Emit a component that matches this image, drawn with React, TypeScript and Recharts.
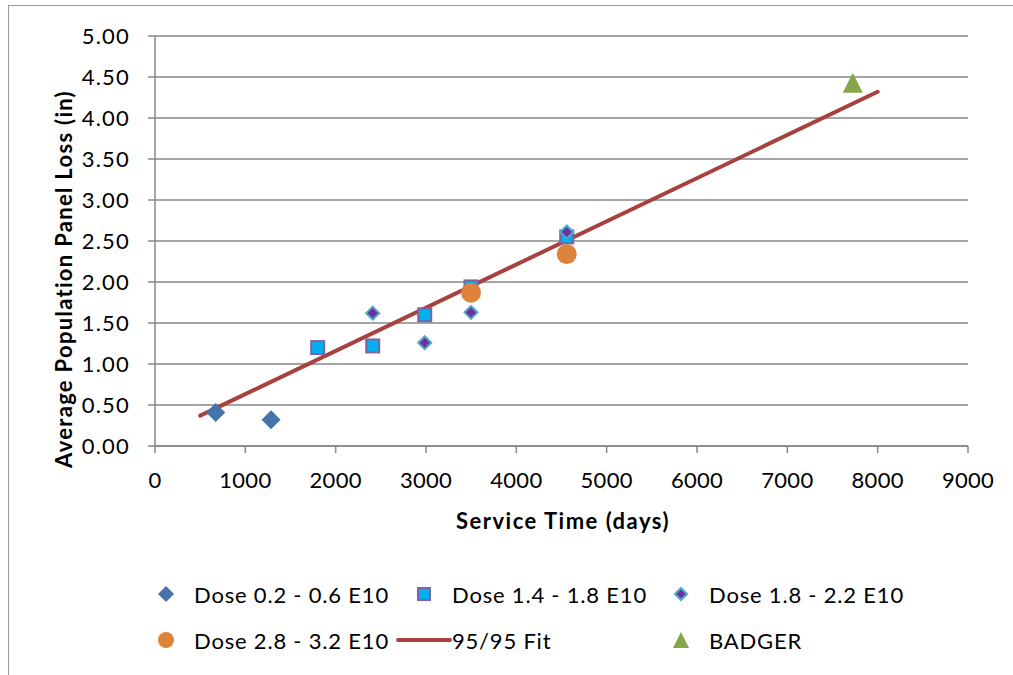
import React from "react";
import { ScatterChart, Scatter, XAxis, YAxis, CartesianGrid } from "recharts";

// values
const doseA = [
  { x: 672, y: 0.41 },
  { x: 1285, y: 0.32 },
];
const doseB = [
  { x: 1801, y: 1.2 },
  { x: 2410, y: 1.22 },
  { x: 2986, y: 1.6 },
  { x: 3498, y: 1.94 },
  { x: 4558, y: 2.55 },
];
const doseC = [
  { x: 2410, y: 1.62 },
  { x: 2986, y: 1.26 },
  { x: 3498, y: 1.63 },
  { x: 4558, y: 2.61 },
];
const doseD = [
  { x: 3498, y: 1.87 },
  { x: 4558, y: 2.34 },
];
const fit = [
  { x: 500, y: 0.37 },
  { x: 8000, y: 4.32 },
];
const badger = [{ x: 7724, y: 4.43 }];

const xTicks = [0, 1000, 2000, 3000, 4000, 5000, 6000, 7000, 8000, 9000];
const yTicks = [0, 0.5, 1, 1.5, 2, 2.5, 3, 3.5, 4, 4.5, 5];

const FONT = "Lato, 'Open Sans', sans-serif";
const GRID = "#878787";

const C_A = "#4673AA";
const C_B = "#00B0F0";
const C_B_EDGE = "#7E63A2";
const C_C = "#7030A0";
const C_C_EDGE = "#4BACC6";
const C_D = "#E0833A";
const C_FIT = "#A8423E";
const C_BADGER = "#87A64A";

const BigDiamond = ({ cx, cy, s = 9.5 }: any) => (
  <path d={`M${cx},${cy - s}L${cx + s},${cy}L${cx},${cy + s}L${cx - s},${cy}Z`} fill={C_A} />
);
const Square = ({ cx, cy, s = 6.5 }: any) => (
  <rect x={cx - s} y={cy - s} width={s * 2} height={s * 2} fill={C_B} stroke={C_B_EDGE} strokeWidth={2} />
);
const SmallDiamond = ({ cx, cy, s = 6.5 }: any) => (
  <path
    d={`M${cx},${cy - s}L${cx + s},${cy}L${cx},${cy + s}L${cx - s},${cy}Z`}
    fill={C_C}
    stroke={C_C_EDGE}
    strokeWidth={2}
  />
);
const Dot = ({ cx, cy, r = 10 }: any) => <circle cx={cx} cy={cy} r={r} fill={C_D} />;
const Tri = ({ cx, cy, s = 10 }: any) => (
  <path d={`M${cx},${cy - s}L${cx + s},${cy + s}L${cx - s},${cy + s}Z`} fill={C_BADGER} />
);
const Nothing = () => <g />;

const legendItems = [
  { name: "Dose 0.2 - 0.6 E10", marker: (c: number) => <BigDiamond cx={c} cy={14} s={8} /> },
  { name: "Dose 1.4 - 1.8 E10", marker: (c: number) => <Square cx={c} cy={14} s={6} /> },
  { name: "Dose 1.8 - 2.2 E10", marker: (c: number) => <SmallDiamond cx={c} cy={14} s={6} /> },
  { name: "Dose 2.8 - 3.2 E10", marker: (c: number) => <Dot cx={c} cy={14} r={8} /> },
  {
    name: "95/95 Fit",
    marker: (c: number) => (
      <line x1={c - 26} x2={c + 26} y1={14} y2={14} stroke={C_FIT} strokeWidth={4} strokeLinecap="round" />
    ),
  },
  { name: "BADGER", marker: (c: number) => <Tri cx={c} cy={14} s={8} /> },
];
const legendCols = [166, 424, 681];
const legendRows = [594, 640];

export default function App() {
  return (
    <div
      style={{
        position: "absolute",
        left: 0,
        top: 0,
        width: 1013,
        height: 675,
        background: "#fff",
        overflow: "hidden",
        fontFamily: FONT,
      }}
    >
      <div
        style={{
          position: "absolute",
          left: 8,
          top: 5,
          width: 1100,
          height: 800,
          borderTop: "1.5px solid #9a9a9a",
          borderLeft: "1.5px solid #9a9a9a",
        }}
      />
      <ScatterChart
        width={1013}
        height={675}
        margin={{ top: 36, right: 45, left: 85, bottom: 189 }}
        style={{ position: "absolute", left: 0, top: 0 }}
      >
        <CartesianGrid vertical={false} stroke={GRID} strokeWidth={1.5} />
        <XAxis
          type="number"
          dataKey="x"
          domain={[0, 9000]}
          ticks={xTicks}
          height={40}
          stroke={GRID}
          strokeWidth={1.5}
          tickSize={7}
          tickMargin={19}
          tick={{ fill: "#000", fontSize: 22, fontFamily: FONT, letterSpacing: 0.3 }}
          label={{
            content: () => (
              <text
                x={563}
                y={529}
                textAnchor="middle"
                fontWeight="bold"
                fontSize={22}
                fontFamily={FONT}
                letterSpacing={1.5}
                fill="#000"
              >
                Service Time (days)
              </text>
            ),
          }}
        />
        <YAxis
          type="number"
          dataKey="y"
          domain={[0, 5]}
          ticks={yTicks}
          width={70}
          stroke={GRID}
          strokeWidth={1.5}
          tickSize={7}
          tickMargin={18}
          tickFormatter={(v: number) => v.toFixed(2)}
          tick={{ fill: "#000", fontSize: 22, fontFamily: FONT, letterSpacing: 1.2 }}
          label={{
            content: () => (
              <text
                x={72}
                y={279}
                transform="rotate(-90, 72, 279)"
                textAnchor="middle"
                fontWeight="bold"
                fontSize={22}
                fontFamily={FONT}
                letterSpacing={1.3}
                fill="#000"
              >
                Average Population Panel Loss (in)
              </text>
            ),
          }}
        />
        <Scatter
          name="95/95 Fit"
          data={fit}
          line={{ stroke: C_FIT, strokeWidth: 4, strokeLinecap: "round" } as any}
          lineType="joint"
          shape={Nothing}
          isAnimationActive={false}
        />
        <Scatter name="Dose 0.2 - 0.6 E10" data={doseA} shape={BigDiamond} isAnimationActive={false} />
        <Scatter name="Dose 1.4 - 1.8 E10" data={doseB} shape={Square} isAnimationActive={false} />
        <Scatter name="Dose 1.8 - 2.2 E10" data={doseC} shape={SmallDiamond} isAnimationActive={false} />
        <Scatter name="Dose 2.8 - 3.2 E10" data={doseD} shape={Dot} isAnimationActive={false} />
        <Scatter name="BADGER" data={badger} shape={Tri} isAnimationActive={false} />
      </ScatterChart>
      {legendItems.map((item, i) => {
        const cx = legendCols[i % 3];
        const cy = legendRows[Math.floor(i / 3)];
        return (
          <div
            key={item.name}
            style={{
              position: "absolute",
              left: cx - 28,
              top: cy - 14,
              height: 28,
              display: "flex",
              alignItems: "center",
              whiteSpace: "nowrap",
            }}
          >
            <svg width={56} height={28} style={{ display: "block" }}>
              {item.marker(28)}
            </svg>
            <span style={{ fontSize: 22, color: "#000", letterSpacing: 0.8 }}>{item.name}</span>
          </div>
        );
      })}
    </div>
  );
}
